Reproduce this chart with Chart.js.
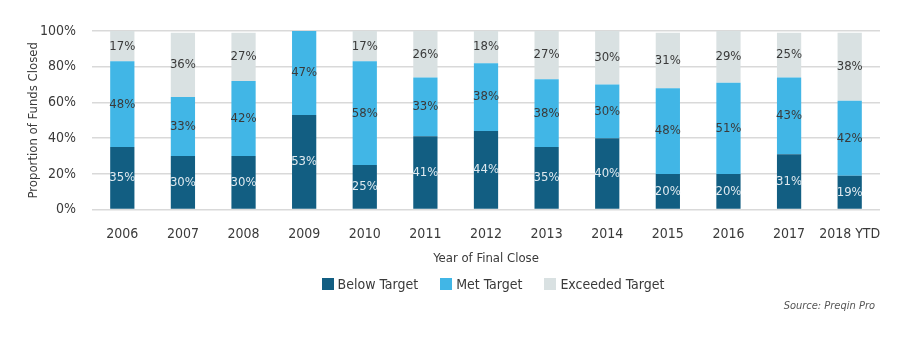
<!DOCTYPE html>
<html lang="en">
<head>
  <meta charset="UTF-8">
  <title>Funds Closed vs Target</title>
  <script src="https://cdn.jsdelivr.net/npm/chart.js"></script>
  <style>
    html, body { margin: 0; padding: 0; background: #fff; }
    #wrap { position: relative; width: 922px; height: 339px; font-family: "DejaVu Sans Condensed", sans-serif; }
    #legend {
      position: absolute; left: 92px; width: 802px; top: 276px;
      display: flex; justify-content: center; gap: 22px;
      font-size: 14px; color: #3a3a3a;
    }
    #legend .item { display: flex; align-items: center; gap: 4px; }
    #legend .box { width: 12px; height: 12px; display: inline-block; }
  </style>
</head>
<body>
  <div id="wrap">
    <canvas id="myChart"></canvas>
    <div id="legend"></div>
  </div>

  <script>
    // Data
    const years = ['2006', '2007', '2008', '2009', '2010', '2011', '2012', '2013', '2014', '2015', '2016', '2017', '2018 YTD'];
    const belowTarget = [35, 30, 30, 53, 25, 41, 44, 35, 40, 20, 20, 31, 19];
    const metTarget = [48, 33, 42, 47, 58, 33, 38, 38, 30, 48, 51, 43, 42];
    const exceededTarget = [17, 36, 27, 0, 17, 26, 18, 27, 30, 31, 29, 25, 38];
    const yTicks = [0, 20, 40, 60, 80, 100];

    const FONT = '"DejaVu Sans Condensed", "Liberation Sans Narrow", sans-serif';
    const TEXT = '#3a3a3a';

    // Draws the percentage inside each bar segment
    const barLabels = {
      id: 'barLabels',
      afterDatasetsDraw(chart) {
        const ctx = chart.ctx;
        ctx.save();
        ctx.font = '13px ' + FONT;
        ctx.textAlign = 'center';
        ctx.textBaseline = 'middle';
        chart.data.datasets.forEach((ds, i) => {
          const meta = chart.getDatasetMeta(i);
          meta.data.forEach((bar, j) => {
            const v = ds.data[j];
            if (!v) return;
            ctx.fillStyle = i === 0 ? '#dfe9ef' : TEXT;
            ctx.fillText(v + '%', bar.x, (bar.y + bar.base) / 2);
          });
        });
        ctx.restore();
      }
    };

    // Source note, bottom right
    const sourceNote = {
      id: 'sourceNote',
      afterDraw(chart) {
        const ctx = chart.ctx;
        ctx.save();
        ctx.font = 'italic 11px ' + FONT;
        ctx.fillStyle = '#555';
        ctx.textAlign = 'right';
        ctx.textBaseline = 'middle';
        ctx.fillText('Source: Preqin Pro', 875, 306);
        ctx.restore();
      }
    };

    const ctx = document.getElementById('myChart').getContext('2d');
    const chart = new Chart(ctx, {
      type: 'bar',
      data: {
        labels: years,
        datasets: [
          { label: 'Below Target', data: belowTarget, backgroundColor: '#125e82' },
          { label: 'Met Target', data: metTarget, backgroundColor: '#41b6e6' },
          { label: 'Exceeded Target', data: exceededTarget, backgroundColor: '#d9e1e2' }
        ]
      },
      options: {
        responsive: true,
        maintainAspectRatio: false,
        animation: false,
        layout: { padding: { left: 26, right: 42, top: 31, bottom: 72 } },
        datasets: { bar: { barPercentage: 0.4, categoryPercentage: 1 } },
        plugins: {
          legend: { display: false },
          tooltip: { enabled: false }
        },
        scales: {
          x: {
            stacked: true,
            grid: { display: false },
            border: { display: false },
            ticks: {
              color: TEXT,
              font: { family: FONT, size: 14 },
              padding: 8,
              maxRotation: 0,
              minRotation: 0,
              autoSkip: false
            },
            title: {
              display: true,
              text: 'Year of Final Close',
              color: TEXT,
              font: { family: FONT, size: 13 },
              padding: { top: 0, bottom: 1 }
            }
          },
          y: {
            stacked: true,
            min: 0,
            max: 100,
            afterBuildTicks(axis) { axis.ticks = yTicks.map(v => ({ value: v })); },
            afterFit(axis) { axis.width = 66; },
            grid: { color: '#d9d9d9', lineWidth: 1.5, drawTicks: false },
            border: { display: false },
            ticks: {
              color: TEXT,
              font: { family: FONT, size: 14 },
              padding: 16,
              callback: v => v + '%'
            },
            title: {
              display: true,
              text: 'Proportion of Funds Closed',
              color: TEXT,
              font: { family: FONT, size: 13 },
              padding: { top: 0, bottom: 0 }
            }
          }
        }
      },
      plugins: [barLabels, sourceNote]
    });

    // HTML legend built from the chart's datasets
    const legendEl = document.getElementById('legend');
    chart.data.datasets.forEach(ds => {
      const item = document.createElement('span');
      item.className = 'item';
      item.innerHTML = '<span class="box" style="background:' + ds.backgroundColor + '"></span>' + ds.label;
      legendEl.appendChild(item);
    });
  </script>
</body>
</html>
